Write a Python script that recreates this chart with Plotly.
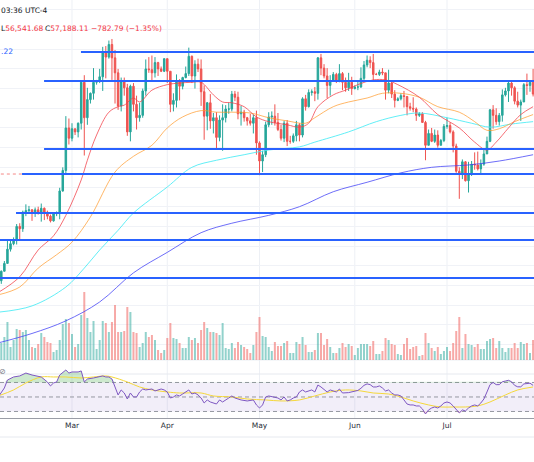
import pandas as pd
import plotly.graph_objects as go

# ---------------- data (prices in thousand USD) ----------------
dates = pd.date_range("2024-02-06", "2024-07-29", freq="D")

opens = [
    # Feb 6-29
    42.7, 43.1, 44.3, 45.3, 47.1, 47.8, 48.3, 50.0, 49.7, 51.8, 52.0, 52.1, 51.7, 52.1, 51.8, 52.3, 51.8, 51.3, 50.7, 51.6, 51.7, 54.5, 57.1, 62.5,
    # Mar
    61.2, 62.4, 62.0, 63.1, 68.3, 63.8, 66.1, 66.9, 68.3, 68.5, 69.0, 72.1, 71.5, 73.1, 71.4, 69.5, 65.3, 68.4, 67.6, 62.0, 67.8, 65.5, 63.8, 64.1, 67.2, 70.0, 69.9, 69.5, 70.8, 70.0, 69.7,
    # Apr
    71.3, 69.7, 65.5, 66.0, 68.5, 67.8, 68.9, 69.4, 71.6, 69.1, 70.6, 70.0, 67.1, 64.0, 65.7, 63.4, 63.8, 61.3, 63.5, 63.8, 64.9, 64.9, 66.8, 66.4, 64.3, 64.5, 63.8, 63.4, 63.1, 63.8,
    # May
    60.6, 58.3, 59.1, 62.9, 63.9, 64.0, 63.2, 62.3, 61.2, 63.1, 60.8, 60.8, 61.5, 62.9, 61.6, 66.2, 65.2, 67.0, 67.1, 66.9, 71.4, 70.1, 69.1, 67.9, 68.5, 69.3, 68.5, 69.4, 68.3, 67.6, 68.3,
    # Jun
    67.5, 67.7, 67.7, 68.8, 70.5, 71.1, 70.8, 69.3, 69.3, 69.6, 69.5, 67.3, 68.2, 66.8, 66.0, 66.2, 66.6, 66.5, 65.2, 65.0, 64.9, 64.1, 64.3, 63.2, 60.3, 61.8, 60.8, 61.6, 60.3, 60.9,
    # Jul
    62.7, 62.8, 62.0, 60.2, 57.0, 56.6, 58.2, 55.8, 56.7, 57.9, 57.8, 57.3, 57.9, 59.2, 60.8, 64.8, 64.1, 63.3, 64.1, 66.7, 67.2, 68.2, 67.6, 65.9, 65.4, 65.8, 68.0, 67.9, 68.3,
]
highs = [
    43.4, 44.4, 45.6, 48.2, 48.2, 48.6, 50.3, 50.4, 52.0, 52.8, 52.6, 52.2, 52.4, 52.5, 52.9, 52.4, 52.0, 51.5, 51.7, 51.9, 54.9, 57.5, 64.0, 63.7,
    63.1, 62.4, 63.2, 68.5, 69.2, 67.6, 67.0, 70.1, 68.6, 70.0, 72.8, 72.9, 73.6, 73.8, 72.4, 70.0, 68.9, 68.9, 68.1, 68.0, 68.2, 66.6, 65.7, 67.5, 71.2, 71.5, 71.7, 71.5, 70.9, 70.3, 71.3,
    71.3, 69.7, 66.9, 69.3, 68.7, 69.0, 70.3, 72.7, 71.7, 71.1, 71.3, 71.2, 67.9, 65.8, 66.8, 64.4, 64.5, 64.1, 65.5, 65.4, 65.7, 67.2, 67.2, 67.1, 65.3, 64.8, 63.9, 64.3, 64.2, 64.7,
    60.8, 59.6, 63.3, 64.5, 64.6, 65.5, 64.4, 62.9, 63.4, 63.5, 61.5, 61.8, 63.4, 63.1, 66.4, 66.7, 67.4, 67.4, 67.7, 71.5, 71.9, 70.6, 70.1, 69.2, 69.6, 69.5, 70.6, 69.6, 68.9, 69.5, 69.0,
    67.9, 68.4, 70.2, 71.0, 71.7, 71.6, 71.9, 69.5, 69.9, 70.1, 69.5, 69.9, 68.4, 67.3, 66.4, 66.9, 67.2, 66.5, 65.7, 66.4, 65.1, 64.5, 64.5, 63.4, 62.3, 62.5, 62.3, 62.2, 61.1, 63.0,
    63.8, 63.2, 62.2, 60.5, 57.5, 58.5, 58.3, 58.2, 58.3, 59.4, 59.5, 58.5, 59.8, 61.4, 64.9, 65.4, 65.0, 64.4, 67.4, 67.6, 68.4, 68.5, 67.8, 67.1, 66.1, 68.2, 69.4, 68.3, 70.0,
]
lows = [
    42.6, 42.7, 44.3, 45.3, 46.8, 47.6, 47.7, 48.3, 49.3, 51.3, 51.6, 50.7, 51.2, 51.5, 50.6, 50.8, 50.9, 50.5, 50.6, 51.3, 50.9, 54.4, 56.7, 60.4,
    60.8, 61.6, 61.3, 62.3, 59.0, 62.9, 65.6, 66.1, 68.0, 68.2, 67.2, 68.8, 71.3, 68.6, 65.6, 64.8, 64.6, 66.6, 61.5, 60.8, 64.6, 62.3, 63.3, 63.8, 66.6, 69.5, 68.4, 68.9, 69.1, 69.6, 69.6,
    68.2, 64.5, 64.6, 65.1, 66.0, 67.4, 68.8, 69.1, 68.2, 67.5, 69.6, 65.3, 61.0, 62.2, 62.4, 61.8, 59.8, 60.8, 59.6, 63.2, 64.3, 64.6, 65.9, 63.6, 62.8, 63.3, 62.8, 62.8, 61.8, 59.1,
    56.5, 56.9, 58.8, 62.6, 62.9, 62.8, 62.1, 60.9, 60.7, 60.2, 60.5, 60.6, 60.8, 60.8, 61.3, 64.7, 65.1, 66.6, 65.9, 66.1, 69.2, 68.8, 66.3, 66.6, 68.5, 68.2, 68.3, 67.3, 67.1, 67.2, 66.7,
    67.4, 67.3, 67.6, 68.5, 70.2, 70.1, 68.5, 69.2, 69.1, 69.2, 66.1, 66.9, 66.3, 65.1, 65.9, 66.0, 65.1, 64.1, 64.7, 64.5, 63.4, 63.9, 63.2, 58.4, 60.3, 60.7, 60.6, 60.0, 60.3, 60.7,
    62.4, 61.8, 59.4, 56.8, 53.5, 56.0, 55.7, 54.3, 56.4, 57.2, 57.1, 56.6, 57.7, 59.2, 60.7, 62.4, 62.9, 62.8, 63.3, 66.5, 65.8, 66.6, 65.5, 65.1, 63.4, 65.8, 66.7, 67.1, 66.5,
]
closes = [
    43.1, 44.3, 45.3, 47.1, 47.8, 48.3, 50.0, 49.7, 51.8, 52.0, 52.1, 51.7, 52.1, 51.8, 52.3, 51.8, 51.3, 50.7, 51.6, 51.7, 54.5, 57.1, 62.5, 61.2,
    62.4, 62.0, 63.1, 68.3, 63.8, 66.1, 66.9, 68.3, 68.5, 69.0, 72.1, 71.5, 73.1, 71.4, 69.5, 65.3, 68.4, 67.6, 62.0, 67.8, 65.5, 63.8, 64.1, 67.2, 70.0, 69.9, 69.5, 70.8, 70.0, 69.7, 71.3,
    69.7, 65.5, 66.0, 68.5, 67.8, 68.9, 69.4, 71.6, 69.1, 70.6, 70.0, 67.1, 64.0, 65.7, 63.4, 63.8, 61.3, 63.5, 63.8, 64.9, 64.9, 66.8, 66.4, 64.3, 64.5, 63.8, 63.4, 63.1, 63.8, 60.6,
    58.3, 59.1, 62.9, 63.9, 64.0, 63.2, 62.3, 61.2, 63.1, 60.8, 60.8, 61.5, 62.9, 61.6, 66.2, 65.2, 67.0, 67.1, 66.9, 71.4, 70.1, 69.1, 67.9, 68.5, 69.3, 68.5, 69.4, 68.3, 67.6, 68.3, 67.5,
    67.7, 67.7, 68.8, 70.5, 71.1, 70.8, 69.3, 69.3, 69.6, 69.5, 67.3, 68.2, 66.8, 66.0, 66.2, 66.6, 66.5, 65.2, 65.0, 64.9, 64.1, 64.3, 63.2, 60.3, 61.8, 60.8, 61.6, 60.3, 60.9, 62.7,
    62.8, 62.0, 60.2, 57.0, 56.6, 58.2, 55.8, 56.7, 57.9, 57.8, 57.3, 57.9, 59.2, 60.8, 64.8, 64.1, 63.3, 64.1, 66.7, 67.2, 68.2, 67.6, 65.9, 65.4, 65.8, 68.0, 67.9, 68.3, 66.8,
]
volumes = [
    15, 17, 23, 38, 13, 20, 31, 30, 28, 30, 20, 13, 12, 16, 27, 23, 18, 17, 8, 10, 20, 36, 41, 37,
    26, 13, 16, 45, 68, 42, 28, 39, 11, 20, 39, 37, 28, 38, 55, 28, 28, 29, 53, 48, 28, 27, 13, 17, 28, 23, 25, 20, 10, 7, 10,
    22, 37, 22, 21, 17, 12, 12, 23, 20, 22, 17, 30, 38, 32, 28, 28, 27, 25, 37, 12, 11, 17, 12, 18, 15, 13, 11, 7, 15, 28,
    43, 24, 23, 13, 9, 18, 14, 14, 17, 19, 7, 7, 18, 16, 23, 15, 8, 8, 10, 27, 27, 15, 21, 13, 7, 7, 12, 17, 13, 16, 14,
    5, 12, 16, 16, 16, 14, 19, 6, 6, 9, 22, 20, 16, 15, 6, 5, 16, 22, 11, 13, 14, 4, 5, 27, 17, 12, 9, 13, 6, 9,
    13, 9, 17, 29, 43, 12, 26, 16, 15, 13, 16, 11, 11, 19, 21, 22, 12, 19, 12, 8, 12, 12, 17, 12, 18, 16, 17, 7, 20,
]

# moving averages
ma_fast_dates = ["2024-02-06", "2024-02-13", "2024-02-19", "2024-02-24", "2024-02-28", "2024-03-04", "2024-03-06",
                 "2024-03-09", "2024-03-13", "2024-03-16", "2024-03-18", "2024-03-21", "2024-03-23", "2024-03-27",
                 "2024-04-01", "2024-04-05", "2024-04-09", "2024-04-12", "2024-04-16", "2024-04-19", "2024-04-22",
                 "2024-04-26", "2024-04-30", "2024-05-04", "2024-05-10", "2024-05-14", "2024-05-17", "2024-05-20",
                 "2024-05-25", "2024-05-29", "2024-06-02", "2024-06-07", "2024-06-11", "2024-06-15", "2024-06-22",
                 "2024-06-28", "2024-07-05", "2024-07-10", "2024-07-14", "2024-07-17", "2024-07-21", "2024-07-25",
                 "2024-07-29"]
ma_fast = [41.6, 43.6, 47.0, 48.8, 51.4, 55.9, 58.4, 61.6, 64.5, 65.2, 65.4, 66.3, 65.8, 67.3, 68.0, 68.2, 68.3,
           68.3, 66.7, 65.8, 65.7, 65.2, 63.9, 63.3, 62.9, 62.6, 63.1, 65.2, 66.7, 67.3, 68.0, 68.6, 68.6, 68.0,
           66.4, 64.2, 62.5, 60.7, 59.7, 60.7, 62.5, 64.2, 65.2]

ma_mid_dates = ["2024-02-06", "2024-02-13", "2024-02-19", "2024-02-25", "2024-03-01", "2024-03-07", "2024-03-15",
                "2024-03-21", "2024-03-27", "2024-04-01", "2024-04-06", "2024-04-12", "2024-04-17", "2024-04-22",
                "2024-04-28", "2024-05-04", "2024-05-10", "2024-05-16", "2024-05-19", "2024-05-25", "2024-05-30",
                "2024-06-05", "2024-06-10", "2024-06-16", "2024-06-22", "2024-06-28", "2024-07-05", "2024-07-10",
                "2024-07-14", "2024-07-18", "2024-07-23", "2024-07-29"]
ma_mid = [41.3, 42.3, 44.7, 46.4, 48.0, 51.2, 56.9, 58.9, 60.3, 62.5, 63.9, 64.7, 64.5, 64.5, 64.4, 63.8, 63.4, 63.1,
          63.8, 65.2, 65.8, 66.3, 66.9, 66.9, 66.4, 65.2, 64.5, 63.3, 62.2, 62.4, 63.3, 64.2]

ma_slow_dates = ["2024-02-06", "2024-02-17", "2024-02-28", "2024-03-05", "2024-03-10", "2024-03-16", "2024-03-21",
                 "2024-04-01", "2024-04-09", "2024-04-17", "2024-04-26", "2024-05-04", "2024-05-14", "2024-05-19",
                 "2024-05-30", "2024-06-08", "2024-06-16", "2024-06-22", "2024-07-01", "2024-07-09", "2024-07-15",
                 "2024-07-22", "2024-07-29"]
ma_slow = [39.1, 39.9, 42.3, 44.7, 47.0, 49.5, 51.7, 55.0, 57.5, 58.4, 59.1, 59.7, 60.1, 60.7, 62.0, 63.3, 64.1,
           64.4, 63.8, 63.1, 62.6, 63.0, 63.3]

ma_long_dates = ["2024-02-06", "2024-02-17", "2024-02-28", "2024-03-10", "2024-03-21", "2024-04-01", "2024-04-12",
                 "2024-04-22", "2024-05-04", "2024-05-14", "2024-05-25", "2024-06-05", "2024-06-16", "2024-06-26",
                 "2024-07-08", "2024-07-18", "2024-07-29"]
ma_long = [35.2, 36.4, 38.0, 40.4, 44.1, 46.7, 49.2, 50.4, 51.4, 52.5, 54.4, 55.6, 56.8, 57.5, 57.8, 58.3, 59.1]

# RSI and its moving average
rsi_dates = ["2024-02-06", "2024-02-08", "2024-02-09", "2024-02-11", "2024-02-13", "2024-02-15", "2024-02-17",
             "2024-02-20", "2024-02-22", "2024-02-23", "2024-02-24", "2024-02-25", "2024-02-26", "2024-02-28",
             "2024-02-29", "2024-03-01", "2024-03-03", "2024-03-04", "2024-03-05", "2024-03-06", "2024-03-08",
             "2024-03-10", "2024-03-11", "2024-03-12", "2024-03-13", "2024-03-14", "2024-03-15", "2024-03-16",
             "2024-03-17", "2024-03-18", "2024-03-19", "2024-03-20", "2024-03-21", "2024-03-22", "2024-03-23",
             "2024-03-24", "2024-03-25", "2024-03-27", "2024-03-28", "2024-03-30", "2024-03-31", "2024-04-01",
             "2024-04-02", "2024-04-03", "2024-04-04", "2024-04-05", "2024-04-06", "2024-04-07", "2024-04-08",
             "2024-04-09", "2024-04-10", "2024-04-11", "2024-04-12", "2024-04-13", "2024-04-14", "2024-04-15",
             "2024-04-17", "2024-04-18", "2024-04-19", "2024-04-21", "2024-04-22", "2024-04-23", "2024-04-25",
             "2024-04-27", "2024-04-29", "2024-04-30", "2024-05-01", "2024-05-02", "2024-05-03", "2024-05-04",
             "2024-05-06", "2024-05-07", "2024-05-08", "2024-05-09", "2024-05-10", "2024-05-11", "2024-05-12",
             "2024-05-13", "2024-05-14", "2024-05-15", "2024-05-16", "2024-05-18", "2024-05-19", "2024-05-20",
             "2024-05-21", "2024-05-22", "2024-05-23", "2024-05-24", "2024-05-25", "2024-05-26", "2024-05-27",
             "2024-05-28", "2024-05-30", "2024-05-31", "2024-06-01", "2024-06-02", "2024-06-03", "2024-06-04",
             "2024-06-05", "2024-06-06", "2024-06-07", "2024-06-08", "2024-06-09", "2024-06-10", "2024-06-11",
             "2024-06-12", "2024-06-13", "2024-06-14", "2024-06-15", "2024-06-16", "2024-06-17", "2024-06-18",
             "2024-06-19", "2024-06-20", "2024-06-21", "2024-06-22", "2024-06-23", "2024-06-24", "2024-06-25",
             "2024-06-26", "2024-06-27", "2024-06-28", "2024-06-29", "2024-06-30", "2024-07-01", "2024-07-02",
             "2024-07-03", "2024-07-04", "2024-07-05", "2024-07-06", "2024-07-07", "2024-07-08", "2024-07-09",
             "2024-07-10", "2024-07-11", "2024-07-12", "2024-07-13", "2024-07-14", "2024-07-15", "2024-07-16",
             "2024-07-17", "2024-07-18", "2024-07-19", "2024-07-20", "2024-07-21", "2024-07-22", "2024-07-23",
             "2024-07-24", "2024-07-25", "2024-07-26", "2024-07-27", "2024-07-28", "2024-07-29"]
rsi = [50, 62.4, 73.4, 77.6, 79, 83, 80.3, 77.6, 70.7, 65.2, 69.3, 70.7, 80.3, 87.2, 83, 84.5, 84.5, 85.9, 70.7, 74.8,
       76.2, 77.6, 79, 77.6, 77.6, 74.8, 63.8, 52.8, 59.7, 55.5, 47.2, 55.5, 50, 50, 56.9, 61, 59.7, 61, 58.3, 61,
       59.7, 56.9, 48.6, 50, 52.8, 51.4, 54.1, 56.9, 59.7, 54.1, 55.5, 52.8, 48.6, 41.7, 45.9, 43.1, 40.3, 45.9,
       43.1, 48.6, 51.4, 48.6, 45.9, 44.5, 45.9, 39, 34.8, 39, 50, 51.4, 50, 48.6, 45.9, 50, 44.5, 45.9, 48.6, 50,
       56.9, 59.7, 56.9, 59.7, 56.9, 66.5, 63.8, 59.7, 56.9, 59.7, 58.3, 56.9, 61, 55.5, 56, 57, 58, 59, 62, 66, 68,
       67, 63.8, 63.8, 65.2, 62.4, 58.3, 59.7, 55.5, 52.8, 52.8, 51.4, 45.9, 40.3, 39, 39, 37.6, 37.6, 33.5, 26.6,
       32.1, 34.8, 36.2, 34.8, 37.6, 41.7, 43.1, 41.7, 37.6, 32.1, 28, 32.1, 30.7, 34.8, 37.6, 39, 37.6, 41.7, 47.2,
       56.9, 67, 70, 67, 67, 71, 72, 73, 71, 66, 64, 64, 68, 69, 69, 66]

rsi_ma_dates = ["2024-02-06", "2024-02-11", "2024-02-15", "2024-02-20", "2024-02-24", "2024-02-28", "2024-03-04",
                "2024-03-08", "2024-03-12", "2024-03-14", "2024-03-19", "2024-03-23", "2024-03-27", "2024-04-01",
                "2024-04-05", "2024-04-12", "2024-04-16", "2024-04-22", "2024-04-27", "2024-05-03", "2024-05-08",
                "2024-05-14", "2024-05-19", "2024-05-24", "2024-05-29", "2024-06-03", "2024-06-07", "2024-06-12",
                "2024-06-16", "2024-06-20", "2024-06-25", "2024-06-29", "2024-07-03", "2024-07-07", "2024-07-11",
                "2024-07-15", "2024-07-20", "2024-07-24", "2024-07-29"]
rsi_ma = [51.4, 59.7, 69.3, 77.6, 77.6, 77.6, 76.2, 77.6, 79, 77.6, 70.7, 63.8, 59.7, 56.9, 55.5, 55.5, 51.4, 50,
          47.2, 45.9, 44.5, 45.9, 51.4, 56.9, 59.7, 58.3, 55.5, 54.1, 50, 44.5, 39, 36.2, 36.2, 36.2, 37.6, 43.1, 52.8,
          59.7, 63.8]
rsi_levels = [70, 50, 30]

# horizontal levels drawn on the chart
level_prices = [72.15, 68.47, 59.83, 56.65, 51.70, 48.27, 43.45]
level_starts = ["2024-03-03 22:00", "2024-02-20 22:00", "2024-02-20 22:00", "2024-02-13 18:00",
                "2024-02-11 19:00", "2024-02-01", "2024-02-01"]
level_end = "2024-08-10"
price_line = 56.65

month_ticks = ["2024-03-01", "2024-04-01", "2024-05-01", "2024-06-01", "2024-07-01"]
month_labels = ["Mar", "Apr", "May", "Jun", "Jul"]

# ---------------- figure ----------------
UP, DOWN = "#26a69a", "#ef5350"
FONT = "DejaVu Sans"
W, H, B = 534, 462, 44
PH = H - B  # plot height in px
def py(p):  # pixel row -> paper y
    return (PH - p) / PH

fig = go.Figure()

vol_colors = ["rgba(38,166,154,0.5)" if c >= o else "rgba(239,83,80,0.5)" for o, c in zip(opens, closes)]
fig.add_trace(go.Bar(x=dates, y=volumes, marker=dict(color=vol_colors, line=dict(width=0)),
                     xaxis="x", yaxis="y", hoverinfo="skip"))

fig.add_trace(go.Candlestick(x=dates, open=opens, high=highs, low=lows, close=closes,
                             xaxis="x", yaxis="y2", whiskerwidth=0,
                             increasing=dict(line=dict(color=UP, width=1), fillcolor=UP),
                             decreasing=dict(line=dict(color=DOWN, width=1), fillcolor=DOWN)))

for xs, ys, col in [(ma_long_dates, ma_long, "rgba(60,60,245,0.75)"),
                    (ma_slow_dates, ma_slow, "rgba(70,235,245,0.85)"),
                    (ma_mid_dates, ma_mid, "rgba(255,152,40,0.7)"),
                    (ma_fast_dates, ma_fast, "rgba(242,60,70,0.75)")]:
    fig.add_trace(go.Scatter(x=xs, y=ys, mode="lines", line=dict(color=col, width=1, shape="spline"),
                             xaxis="x", yaxis="y2", hoverinfo="skip"))

fig.add_trace(go.Scatter(x=["2024-02-01", level_end], y=[price_line, price_line], mode="lines",
                         line=dict(color="rgba(239,83,80,0.7)", width=1, dash="dot"),
                         xaxis="x", yaxis="y2", hoverinfo="skip"))
for lp, ls in zip(level_prices, level_starts):
    fig.add_trace(go.Scatter(x=[ls, level_end], y=[lp, lp], mode="lines",
                             line=dict(color="#2962ff", width=2), xaxis="x", yaxis="y2", hoverinfo="skip"))

# RSI pane
fig.add_trace(go.Scatter(x=rsi_dates, y=[70] * len(rsi_dates), mode="lines", line=dict(width=0),
                         xaxis="x", yaxis="y3", hoverinfo="skip"))
fig.add_trace(go.Scatter(x=rsi_dates, y=[max(v, 70) for v in rsi], mode="lines", line=dict(width=0),
                         fill="tonexty", fillcolor="rgba(76,175,80,0.28)", xaxis="x", yaxis="y3", hoverinfo="skip"))
fig.add_trace(go.Scatter(x=rsi_dates, y=[30] * len(rsi_dates), mode="lines", line=dict(width=0),
                         xaxis="x", yaxis="y3", hoverinfo="skip"))
fig.add_trace(go.Scatter(x=rsi_dates, y=[min(v, 30) for v in rsi], mode="lines", line=dict(width=0),
                         fill="tonexty", fillcolor="rgba(239,83,80,0.25)", xaxis="x", yaxis="y3", hoverinfo="skip"))
fig.add_trace(go.Scatter(x=rsi_ma_dates, y=rsi_ma, mode="lines", line=dict(color="#f5d83a", width=1, shape="spline"),
                         xaxis="x", yaxis="y3", hoverinfo="skip"))
fig.add_trace(go.Scatter(x=rsi_dates, y=rsi, mode="lines", line=dict(color="#7e57c2", width=1),
                         xaxis="x", yaxis="y3", hoverinfo="skip"))

shapes = []
for m in month_ticks:
    shapes.append(dict(type="line", xref="x", yref="paper", x0=m, x1=m, y0=0, y1=1,
                       line=dict(color="#edf0f5", width=1), layer="below"))
shapes.append(dict(type="rect", xref="paper", yref="y3", x0=0, x1=1, y0=rsi_levels[2], y1=rsi_levels[0],
                   fillcolor="rgba(126,87,194,0.1)", line=dict(width=0), layer="below"))
for lv in rsi_levels:
    shapes.append(dict(type="line", xref="paper", yref="y3", x0=0, x1=1, y0=lv, y1=lv,
                       line=dict(color="#9598a1", width=1, dash="4px,3px"), layer="below"))
for prow, colr in [(360, "#eceff4"), (374, "#e6e9ef"), (437, "#e6e9ef")]:
    shapes.append(dict(type="line", xref="paper", yref="paper", x0=0, x1=1, y0=py(prow), y1=py(prow),
                       line=dict(color=colr, width=1), layer="below"))

RED = "#f23645"
DARK = "#131722"
annotations = [
    dict(x=0, y=py(11), text="03:36 UTC-4", font=dict(color=DARK, size=7.5, family=FONT)),
    dict(x=0, y=py(29), text="L<span style='color:%s'>56,541.68</span>" % RED, font=dict(color=DARK, size=7.5, family=FONT)),
    dict(x=44.3 / W, y=py(29), text="C<span style='color:%s'>57,188.11</span>" % RED, font=dict(color=DARK, size=7.5, family=FONT)),
    dict(x=89.5 / W, y=py(29), text="−782.79 (−1.35%)", font=dict(color=RED, size=7.5, family=FONT)),
    dict(x=0, y=py(52), text=".22", font=dict(color="#2962ff", size=7.5, family=FONT)),
    dict(x=-0.004, y=py(371), text="⊘", font=dict(color="#787b86", size=8, family=FONT)),
]
for a in annotations:
    a.update(xref="paper", yref="paper", xanchor="left", yanchor="middle", showarrow=False,
             borderpad=0, xshift=0)

price_dom = [py(360), 1]
fig.update_layout(
    width=W, height=H, margin=dict(l=0, r=0, t=0, b=B),
    paper_bgcolor="white", plot_bgcolor="white", showlegend=False,
    bargap=0.35, shapes=shapes, annotations=annotations,
    font=dict(family=FONT, color=DARK),
    xaxis=dict(domain=[0, 1], anchor="y3", type="date",
               range=["2024-02-06 13:54", "2024-07-29 07:12"],
               rangeslider=dict(visible=False), showgrid=False, zeroline=False,
               tickmode="array", tickvals=month_ticks, ticktext=month_labels, ticks="",
               tickfont=dict(size=7.5, color="#2a2e39", family=FONT),
               showline=True, linecolor="#9a9da6", linewidth=1),
    yaxis=dict(domain=price_dom, range=[0, 360], visible=False, fixedrange=True),
    yaxis2=dict(domain=price_dom, overlaying="y", anchor="x", range=[33.03, 78.75],
                showgrid=True, gridcolor="#f0f2f7", gridwidth=1, dtick=2.5, tick0=0,
                showticklabels=False, zeroline=False, showline=False, ticks=""),
    yaxis3=dict(domain=[0, py(360)], anchor="x", range=[21, 101], visible=False),
)

fig.write_html("out.html")
